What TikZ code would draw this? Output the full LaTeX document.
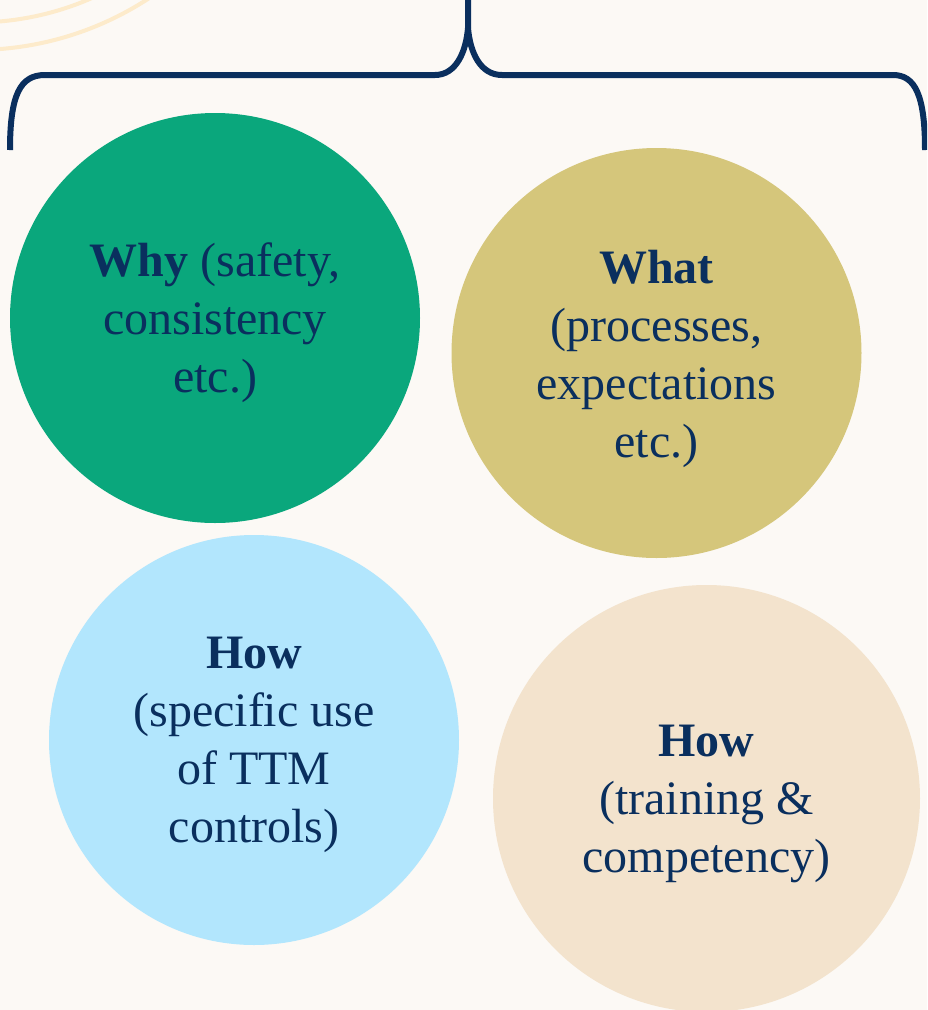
\documentclass[tikz,border=0pt]{standalone}
\usepackage{fontspec}
\setmainfont{Liberation Serif}
\definecolor{bgc}{HTML}{FCF9F5}
\definecolor{navy}{HTML}{0A2F5E}
\definecolor{arcc}{HTML}{FDEBCB}
\definecolor{greenc}{HTML}{0AA77C}
\definecolor{olivec}{HTML}{D5C67B}
\definecolor{bluec}{HTML}{B2E6FD}
\definecolor{beigec}{HTML}{F3E3CD}
\tikzset{
  bubble/.style={circle, draw=none, inner sep=0pt, minimum size=410pt},
  label text/.style={align=center, text=navy, inner sep=0pt, font=\fontsize{48}{58}\selectfont},
  bracestroke/.style={draw=navy, line width=6pt},
  faint arc/.style={draw=arcc, line width=4pt}
}
\begin{document}
\begin{tikzpicture}[x=1pt,y=-1pt]
\useasboundingbox (0,0) rectangle (927,1010);
\clip (0,0) rectangle (927,1010);
\fill[bgc] (0,0) rectangle (927,1010);
% faint decorative arcs
\coordinate (arccenter) at (-25,-268);
\draw[faint arc] (arccenter) circle[radius=290.5pt];
\draw[faint arc] (arccenter) circle[radius=318pt];
% brace
\coordinate (bl) at (10,150);
\coordinate (br) at (925,150);
\coordinate (tip) at (468,28);
\coordinate (top) at (468,-2);
\draw[bracestroke] (bl) .. controls (10,95) and (20,75) .. (45,75) -- (435,75)
   .. controls (456,75) and (466,52) .. (tip) -- (top);
\draw[bracestroke] (tip) .. controls (470,52) and (480,75) .. (502,75) -- (893,75)
   .. controls (915,75) and (925,95) .. (br);
% circles
\node[bubble, fill=greenc] (why) at (215,318) {};
\node[bubble, fill=olivec] (what) at (656.5,353) {};
\node[bubble, fill=bluec] (howa) at (254,740) {};
\node[bubble, fill=beigec, minimum size=427pt] (howb) at (706.5,798.5) {};
% texts
\node[label text] (whyt) at ([yshift=-5pt]why.center) {\textbf{Why} (safety,\\consistency\\etc.)};
\node[label text] (whatt) at ([yshift=-6pt]what.center) {\textbf{What}\\(processes,\\expectations\\etc.)};
\node[label text] (howat) at ([yshift=-5pt]howa.center) {\textbf{How}\\(specific use\\of TTM\\controls)};
\node[label text] (howbt) at ([yshift=-5.5pt]howb.center) {\textbf{How}\\(training \&\\competency)};
\end{tikzpicture}
\end{document}
